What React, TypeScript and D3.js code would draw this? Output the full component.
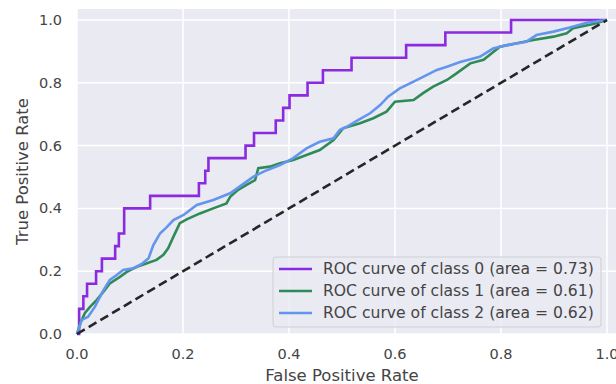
import React from "react";
import * as d3 from "d3";

// ROC points
const class0Fpr = [0, 0.004, 0.012, 0.019, 0.036, 0.047, 0.072, 0.079, 0.089, 0.138, 0.23, 0.242, 0.248, 0.318, 0.334, 0.375, 0.389, 0.401, 0.435, 0.464, 0.518, 0.621, 0.695, 0.819, 1];
const class0Tpr = [0, 0.08, 0.12, 0.16, 0.2, 0.24, 0.28, 0.32, 0.4, 0.44, 0.48, 0.52, 0.56, 0.6, 0.64, 0.68, 0.72, 0.76, 0.8, 0.84, 0.88, 0.92, 0.96, 1, 1];

const class1Fpr = [0, 0.006, 0.015, 0.025, 0.037, 0.05, 0.062, 0.081, 0.094, 0.113, 0.132, 0.15, 0.163, 0.172, 0.182, 0.194, 0.207, 0.232, 0.257, 0.282, 0.289, 0.304, 0.32, 0.336, 0.342, 0.364, 0.383, 0.408, 0.433, 0.458, 0.484, 0.502, 0.534, 0.559, 0.584, 0.6, 0.635, 0.653, 0.672, 0.698, 0.716, 0.742, 0.767, 0.779, 0.798, 0.83, 0.861, 0.899, 0.924, 0.936, 0.974, 1];
const class1Tpr = [0, 0.034, 0.067, 0.087, 0.108, 0.135, 0.161, 0.182, 0.198, 0.214, 0.225, 0.236, 0.252, 0.273, 0.31, 0.353, 0.365, 0.384, 0.4, 0.416, 0.437, 0.459, 0.475, 0.49, 0.528, 0.533, 0.544, 0.554, 0.57, 0.586, 0.618, 0.655, 0.671, 0.687, 0.708, 0.74, 0.745, 0.767, 0.788, 0.809, 0.83, 0.862, 0.873, 0.889, 0.915, 0.926, 0.936, 0.947, 0.958, 0.974, 0.987, 1];

const class2Fpr = [0, 0.009, 0.021, 0.034, 0.05, 0.062, 0.075, 0.087, 0.106, 0.122, 0.135, 0.144, 0.157, 0.168, 0.182, 0.201, 0.226, 0.257, 0.289, 0.308, 0.333, 0.352, 0.383, 0.408, 0.433, 0.458, 0.484, 0.496, 0.509, 0.531, 0.553, 0.572, 0.587, 0.609, 0.635, 0.653, 0.679, 0.698, 0.723, 0.76, 0.785, 0.811, 0.848, 0.867, 0.899, 0.93, 0.962, 1];
const class2Tpr = [0, 0.045, 0.055, 0.087, 0.14, 0.172, 0.188, 0.204, 0.209, 0.223, 0.241, 0.283, 0.321, 0.338, 0.363, 0.379, 0.411, 0.427, 0.448, 0.471, 0.501, 0.517, 0.538, 0.56, 0.591, 0.612, 0.623, 0.65, 0.66, 0.682, 0.703, 0.729, 0.756, 0.782, 0.804, 0.819, 0.841, 0.851, 0.866, 0.883, 0.909, 0.92, 0.931, 0.952, 0.963, 0.976, 0.991, 1];

const classNames = ["class 0", "class 1", "class 2"];
const classAreas = [0.73, 0.61, 0.62];
const classColors = ["#8a2be2", "#2e8b57", "#6495ed"];

const tickValues = [0, 0.2, 0.4, 0.6, 0.8, 1.0];
const tickLabels = ["0.0", "0.2", "0.4", "0.6", "0.8", "1.0"];

const W = 616;
const H = 384;
const FONT = "'DejaVu Sans', sans-serif";
const TEXT = "#444";

export default function App() {
  const x = d3.scaleLinear().domain([0, 1]).range([77, 607]);
  const y = d3.scaleLinear().domain([0, 1]).range([334, 20]);
  const xMax = 1.017;
  const yMax = 1.035;

  const series = [
    { fpr: class0Fpr, tpr: class0Tpr, step: true },
    { fpr: class1Fpr, tpr: class1Tpr, step: false },
    { fpr: class2Fpr, tpr: class2Tpr, step: false },
  ];

  const pathFor = (s: { fpr: number[]; tpr: number[]; step: boolean }) => {
    const pts = s.fpr.map((f, i) => [f, s.tpr[i]] as [number, number]);
    const line = d3
      .line<[number, number]>()
      .x((d) => x(d[0]))
      .y((d) => y(d[1]))
      .curve(s.step ? d3.curveStepAfter : d3.curveLinear);
    return line(pts) || "";
  };

  const diag = d3
    .line<number>()
    .x((d) => x(d))
    .y((d) => y(d))([0, 1]) || "";

  // legend geometry
  const lgX = 273;
  const lgY = 257;
  const lgW = 328;
  const lgH = 70;
  const rowY = (i: number) => lgY + 12 + i * 22;

  return (
    <svg
      width={W}
      height={H}
      style={{ position: "absolute", left: 0, top: 0, background: "#fff" }}
      fontFamily={FONT}
    >
      <rect
        x={x(0)}
        y={y(yMax)}
        width={x(xMax) - x(0)}
        height={y(0) - y(yMax)}
        fill="#eaeaf2"
      />
      {/* grid */}
      {tickValues.map((t) => (
        <line key={"gx" + t} x1={x(t)} x2={x(t)} y1={y(0)} y2={y(yMax)} stroke="#fff" strokeWidth={1.5} />
      ))}
      {tickValues.map((t) => (
        <line key={"gy" + t} x1={x(0)} x2={x(xMax)} y1={y(t)} y2={y(t)} stroke="#fff" strokeWidth={1.5} />
      ))}

      {series.map((s, i) => (
        <path key={i} d={pathFor(s)} fill="none" stroke={classColors[i]} strokeWidth={2.6} strokeLinejoin="miter" />
      ))}
      <path d={diag} fill="none" stroke="#262626" strokeWidth={2.6} strokeDasharray="9,4.6" />

      {/* tick labels */}
      {tickValues.map((t, i) => (
        <text key={"tx" + t} x={x(t)} y={359} textAnchor="middle" fontSize={14.5} fill={TEXT}>
          {tickLabels[i]}
        </text>
      ))}
      {tickValues.map((t, i) => (
        <text key={"ty" + t} x={62} y={y(t) + 5} textAnchor="end" fontSize={14.5} fill={TEXT}>
          {tickLabels[i]}
        </text>
      ))}

      <text x={(x(0) + x(1)) / 2} y={381} textAnchor="middle" fontSize={16.5} fill={TEXT}>
        False Positive Rate
      </text>
      <text
        transform={`translate(28,${(y(0) + y(yMax)) / 2}) rotate(-90)`}
        textAnchor="middle"
        fontSize={16.5}
        fill={TEXT}
      >
        True Positive Rate
      </text>

      {/* legend */}
      <rect x={lgX} y={lgY} width={lgW} height={lgH} rx={3} fill="#eaeaf2" fillOpacity={0.8} stroke="#cfcfd6" strokeWidth={1} />
      {classNames.map((c, i) => (
        <g key={c}>
          <line x1={lgX + 6} x2={lgX + 39} y1={rowY(i)} y2={rowY(i)} stroke={classColors[i]} strokeWidth={2.6} />
          <text x={lgX + 50} y={rowY(i) + 5} fontSize={15.6} fill={TEXT}>
            {`ROC curve of ${c} (area = ${classAreas[i].toFixed(2)})`}
          </text>
        </g>
      ))}
    </svg>
  );
}
